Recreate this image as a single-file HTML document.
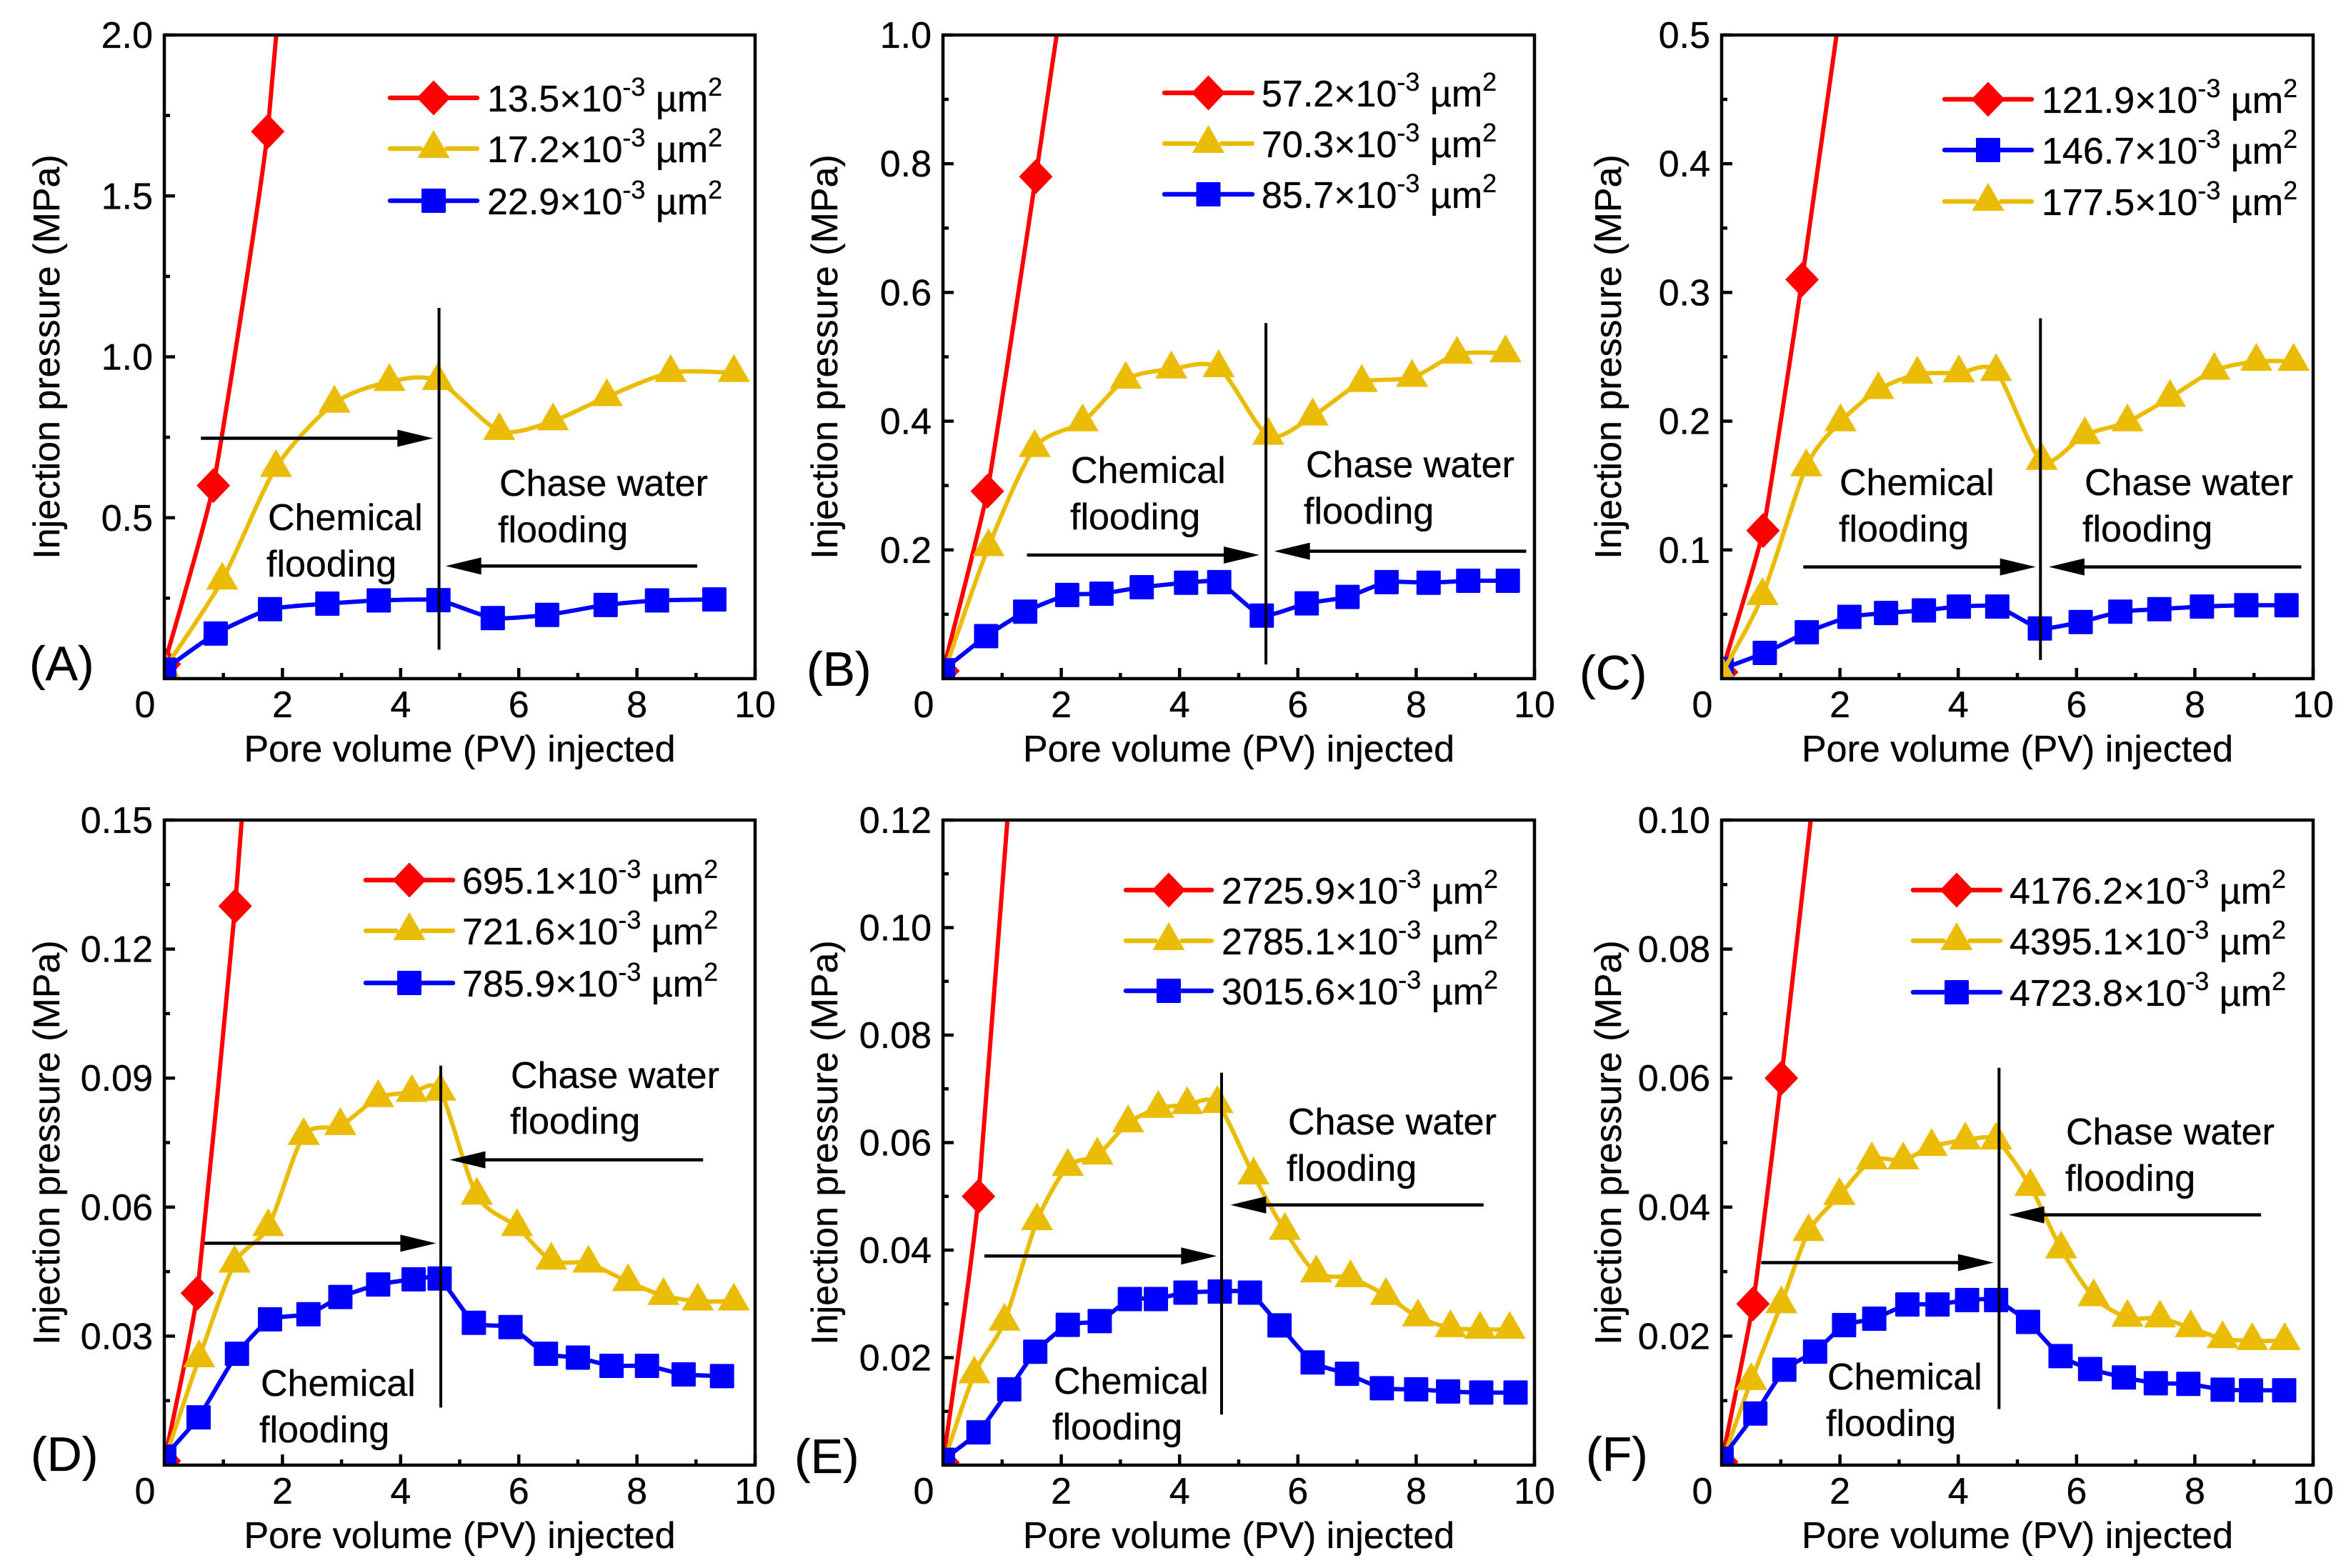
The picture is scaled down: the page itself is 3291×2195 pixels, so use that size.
<!DOCTYPE html>
<html lang="en">
<head>
<meta charset="utf-8">
<title>Injection pressure versus pore volume injected</title>
<style>
html,body{margin:0;padding:0;background:#fff;}
svg{display:block;}
text{font-family:"Liberation Sans",Arial,sans-serif;fill:#000;font-size:52px;stroke:#000;stroke-width:0.35px;}
</style>
</head>
<body>
<svg id="figure" xmlns="http://www.w3.org/2000/svg" width="3291" height="2195" viewBox="0 0 3291 2195"></svg>
<script>
// ---------- shared axis data ----------
const xTickValues = [0, 2, 4, 6, 8, 10];
const xMinorValues = [1, 3, 5, 7, 9];
const xAxisTitle = 'Pore volume (PV) injected';
const yAxisTitle = 'Injection pressure (MPa)';
const chemicalLines = ['Chemical', 'flooding'];
const chaseLines = ['Chase water', 'flooding'];

// ---------- panel A ----------
const aYTicks = ['0.5', '1.0', '1.5', '2.0'];
const aYMinor = [0.25, 0.75, 1.25, 1.75];
const aLegend = ['13.5', '17.2', '22.9'];
const aRedPV = [0, 0.83, 1.75, 2.6];
const aRedP = [0.045, 0.60, 1.70, 3.5];
const aYellowPV = [0, 0.98, 1.89, 2.88, 3.81, 4.63, 5.67, 6.58, 7.49, 8.57, 9.64];
const aYellowP = [0.044, 0.32, 0.67, 0.87, 0.937, 0.94, 0.785, 0.815, 0.89, 0.965, 0.965];
const aBluePV = [0, 0.87, 1.79, 2.76, 3.63, 4.64, 5.56, 6.48, 7.47, 8.34, 9.31];
const aBlueP = [0.028, 0.14, 0.216, 0.233, 0.243, 0.244, 0.188, 0.198, 0.229, 0.243, 0.246];

// ---------- panel B ----------
const bYTicks = ['0.2', '0.4', '0.6', '0.8', '1.0'];
const bYMinor = [0.1, 0.3, 0.5, 0.7, 0.9];
const bLegend = ['57.2', '70.3', '85.7'];
const bRedPV = [0, 0.75, 1.57, 2.4];
const bRedP = [0.012, 0.291, 0.78, 1.3];
const bYellowPV = [0, 0.77, 1.55, 2.36, 3.09, 3.86, 4.66, 5.5, 6.25, 7.08, 7.93, 8.69, 9.51];
const bYellowP = [0.012, 0.212, 0.366, 0.406, 0.472, 0.488, 0.49, 0.385, 0.415, 0.467, 0.475, 0.511, 0.513];
const bBluePV = [0, 0.73, 1.39, 2.10, 2.68, 3.36, 4.11, 4.67, 5.39, 6.15, 6.84, 7.5, 8.21, 8.88, 9.55];
const bBlueP = [0.013, 0.066, 0.104, 0.13, 0.132, 0.142, 0.149, 0.15, 0.098, 0.117, 0.127, 0.15, 0.149, 0.152, 0.152];

// ---------- panel C ----------
const cYTicks = ['0.1', '0.2', '0.3', '0.4', '0.5'];
const cYMinor = [0.05, 0.15, 0.25, 0.35, 0.45];
const cLegend = ['121.9', '146.7', '177.5'];
const cRedPV = [0, 0.70, 1.36, 2.4];
const cRedP = [0.005, 0.115, 0.31, 0.65];
const cBluePV = [0, 0.73, 1.44, 2.16, 2.78, 3.42, 4.01, 4.66, 5.38, 6.07, 6.74, 7.4, 8.12, 8.87, 9.55];
const cBlueP = [0.0075, 0.02, 0.036, 0.048, 0.051, 0.053, 0.056, 0.056, 0.039, 0.044, 0.052, 0.054, 0.056, 0.057, 0.057];
const cYellowPV = [0, 0.69, 1.43, 2.01, 2.65, 3.31, 4.01, 4.64, 5.41, 6.14, 6.86, 7.58, 8.33, 9.04, 9.67];
const cYellowP = [0.0075, 0.068, 0.168, 0.203, 0.228, 0.24, 0.241, 0.242, 0.173, 0.193, 0.203, 0.222, 0.243, 0.25, 0.25];

// ---------- panel D ----------
const dYTicks = ['0.03', '0.06', '0.09', '0.12', '0.15'];
const dYMinor = [0.015, 0.045, 0.075, 0.105, 0.135];
const dLegend = ['695.1', '721.6', '785.9'];
const dRedPV = [0, 0.56, 1.2, 1.8];
const dRedP = [0.001, 0.04, 0.13, 0.24];
const dYellowPV = [0, 0.59, 1.19, 1.76, 2.36, 2.98, 3.62, 4.19, 4.67, 5.29, 5.97, 6.55, 7.18, 7.85, 8.45, 9.03, 9.64];
const dYellowP = [0.002, 0.026, 0.048, 0.0565, 0.0777, 0.08, 0.0865, 0.0877, 0.088, 0.0638, 0.0565, 0.0487, 0.048, 0.0437, 0.0405, 0.0392, 0.0392];
const dBluePV = [0, 0.58, 1.23, 1.79, 2.44, 2.98, 3.62, 4.22, 4.66, 5.24, 5.86, 6.46, 7.0, 7.57, 8.17, 8.79, 9.44];
const dBlueP = [0.002, 0.0111, 0.0259, 0.0339, 0.0351, 0.0391, 0.042, 0.0432, 0.0434, 0.0331, 0.0321, 0.0259, 0.025, 0.0231, 0.0231, 0.0211, 0.0207];

// ---------- panel E ----------
const eYTicks = ['0.02', '0.04', '0.06', '0.08', '0.10', '0.12'];
const eYMinor = [0.01, 0.03, 0.05, 0.07, 0.09, 0.11];
const eLegend = ['2725.9', '2785.1', '3015.6'];
const eRedPV = [0, 0.6, 1.6];
const eRedP = [0.0005, 0.05, 0.195];
const eYellowPV = [0, 0.53, 1.04, 1.59, 2.11, 2.61, 3.13, 3.64, 4.13, 4.64, 5.25, 5.78, 6.31, 6.89, 7.49, 8.03, 8.58, 9.08, 9.58];
const eYellowP = [0.001, 0.0178, 0.0276, 0.0463, 0.0564, 0.0585, 0.0645, 0.0672, 0.0679, 0.0681, 0.0548, 0.0445, 0.0366, 0.0357, 0.0324, 0.0284, 0.0264, 0.0261, 0.0261];
const eBluePV = [0, 0.6, 1.12, 1.56, 2.11, 2.65, 3.16, 3.6, 4.1, 4.68, 5.19, 5.69, 6.25, 6.83, 7.42, 8.0, 8.54, 9.1, 9.68];
const eBlueP = [0.001, 0.0061, 0.0141, 0.0211, 0.0261, 0.0268, 0.0309, 0.0309, 0.0321, 0.0323, 0.0321, 0.026, 0.0191, 0.017, 0.0143, 0.0141, 0.0137, 0.0135, 0.0135];

// ---------- panel F ----------
const fYTicks = ['0.02', '0.04', '0.06', '0.08', '0.10'];
const fYMinor = [0.01, 0.03, 0.05, 0.07, 0.09];
const fLegend = ['4176.2', '4395.1', '4723.8'];
const fRedPV = [0, 0.53, 1.01, 2.0];
const fRedP = [0.0005, 0.025, 0.06, 0.14];
const fYellowPV = [0, 0.50, 1.01, 1.47, 1.99, 2.54, 3.07, 3.55, 4.12, 4.64, 5.22, 5.74, 6.29, 6.86, 7.41, 7.93, 8.47, 8.97, 9.52];
const fYellowP = [0.001, 0.0138, 0.0257, 0.0369, 0.0425, 0.048, 0.048, 0.0501, 0.0511, 0.0511, 0.0439, 0.0342, 0.0268, 0.0236, 0.0235, 0.022, 0.0203, 0.02, 0.02];
const fBluePV = [0, 0.57, 1.06, 1.58, 2.07, 2.58, 3.14, 3.65, 4.15, 4.64, 5.18, 5.73, 6.23, 6.8, 7.34, 7.89, 8.47, 8.95, 9.51];
const fBlueP = [0.001, 0.008, 0.0148, 0.0176, 0.0217, 0.0227, 0.0249, 0.0249, 0.0256, 0.0256, 0.0222, 0.0169, 0.0149, 0.0136, 0.0127, 0.0126, 0.0117, 0.0116, 0.0116];

// ---------- layout and styling (not data) ----------
const RED = '#ff0000', YELLOW = '#ebbc05', BLUE = '#0000ff';
const panels = [
  {id:'a', tag:'(A)', L:230, R:1057, T:49, B:950, yMax:2.0, ticks:aYTicks, minor:aYMinor, legend:aLegend,
   series:[['red',aRedPV,aRedP],['yellow',aYellowPV,aYellowP],['blue',aBluePV,aBlueP]],
   titleX:83, tagX:41, tagY:952, lx1:546, lx2:668, lt:682, rows:[137,208,281],
   div:[4.65,1.152,0.09], arrR:[0.62,4.55,0.747], arrL:[9.02,4.76,0.35],
   chem:[[377,742],[375,807]], chase:[[701,694],[699,759]]},
  {id:'b', tag:'(B)', L:1320, R:2148, T:49, B:950, yMax:1.0, ticks:bYTicks, minor:bYMinor, legend:bLegend,
   series:[['red',bRedPV,bRedP],['yellow',bYellowPV,bYellowP],['blue',bBluePV,bBlueP]],
   titleX:1172, tagX:1129, tagY:960, lx1:1630, lx2:1753, lt:1766, rows:[130,201,272],
   div:[5.46,0.5525,0.022], arrR:[1.42,5.35,0.192], arrL:[9.86,5.60,0.198],
   chem:[[1501,676],[1500,741]], chase:[[1830,668],[1827,733]]},
  {id:'c', tag:'(C)', L:2410, R:3238, T:49, B:950, yMax:0.5, ticks:cYTicks, minor:cYMinor, legend:cLegend,
   series:[['red',cRedPV,cRedP],['blue',cBluePV,cBlueP],['yellow',cYellowPV,cYellowP]],
   titleX:2269, tagX:2211, tagY:965, lx1:2722, lx2:2844, lt:2858, rows:[139,210,282],
   div:[5.39,0.28,0.0144], arrR:[1.38,5.31,0.0868], arrL:[9.8,5.53,0.0868],
   chem:[[2577,693],[2576,758]], chase:[[2920,693],[2917,758]]},
  {id:'d', tag:'(D)', L:230, R:1057, T:1148, B:2051, yMax:0.15, ticks:dYTicks, minor:dYMinor, legend:dLegend,
   series:[['red',dRedPV,dRedP],['yellow',dYellowPV,dYellowP],['blue',dBluePV,dBlueP]],
   titleX:83, tagX:43, tagY:2059, lx1:512, lx2:634, lt:647, rows:[1232,1303,1376],
   div:[4.68,0.0929,0.0134], arrR:[0.68,4.6,0.0516], arrL:[9.12,4.83,0.071],
   chem:[[367,1954],[365,2019]], chase:[[717,1523],[716,1587]]},
  {id:'e', tag:'(E)', L:1320, R:2148, T:1148, B:2051, yMax:0.12, ticks:eYTicks, minor:eYMinor, legend:eLegend,
   series:[['red',eRedPV,eRedP],['yellow',eYellowPV,eYellowP],['blue',eBluePV,eBlueP]],
   titleX:1172, tagX:1112, tagY:2062, lx1:1576, lx2:1696, lt:1710, rows:[1246,1317,1387],
   div:[4.71,0.073,0.0094], arrR:[0.7,4.63,0.0389], arrL:[9.14,4.86,0.0484],
   chem:[[1477,1951],[1475,2015]], chase:[[1805,1588],[1803,1653]]},
  {id:'f', tag:'(F)', L:2410, R:3238, T:1148, B:2051, yMax:0.1, ticks:fYTicks, minor:fYMinor, legend:fLegend,
   series:[['red',fRedPV,fRedP],['yellow',fYellowPV,fYellowP],['blue',fBluePV,fBlueP]],
   titleX:2269, tagX:2220, tagY:2059, lx1:2678, lx2:2800, lt:2813, rows:[1246,1317,1389],
   div:[4.69,0.0616,0.0087], arrR:[0.67,4.6,0.0314], arrL:[9.12,4.85,0.0388],
   chem:[[2560,1945],[2558,2010]], chase:[[2894,1602],[2893,1667]]}
];
const seriesStyle = {
  red:{color:RED, smooth:0.4, anchorShift:0},
  yellow:{color:YELLOW, smooth:0.8, anchorShift:6.5},
  blue:{color:BLUE, smooth:0.5, anchorShift:0}
};

const NS = 'http://www.w3.org/2000/svg';
const root = document.getElementById('figure');
const defs = document.createElementNS(NS, 'defs');
root.appendChild(defs);

function mk(parent, type, attrs, txt) {
  const n = document.createElementNS(NS, type);
  for (const k in attrs) n.setAttribute(k, attrs[k]);
  if (txt !== undefined) n.textContent = txt;
  parent.appendChild(n);
  return n;
}

function smoothPath(pts, k) {
  let d = 'M' + pts[0][0].toFixed(1) + ' ' + pts[0][1].toFixed(1);
  for (let i = 0; i < pts.length - 1; i++) {
    const p0 = pts[Math.max(0, i - 1)], p1 = pts[i], p2 = pts[i + 1], p3 = pts[Math.min(pts.length - 1, i + 2)];
    const c1x = p1[0] + (p2[0] - p0[0]) / 6 * k, c1y = p1[1] + (p2[1] - p0[1]) / 6 * k;
    const c2x = p2[0] - (p3[0] - p1[0]) / 6 * k, c2y = p2[1] - (p3[1] - p1[1]) / 6 * k;
    d += 'C' + c1x.toFixed(1) + ' ' + c1y.toFixed(1) + ' ' + c2x.toFixed(1) + ' ' + c2y.toFixed(1) + ' ' + p2[0].toFixed(1) + ' ' + p2[1].toFixed(1);
  }
  return d;
}

function drawMarker(parent, kind, cx, cy) {
  if (kind === 'red') {
    return mk(parent, 'polygon', {points:(cx-23.5)+','+cy+' '+cx+','+(cy-24.5)+' '+(cx+23.5)+','+cy+' '+cx+','+(cy+24.5), fill:RED});
  }
  if (kind === 'yellow') {
    return mk(parent, 'polygon', {points:(cx-22.5)+','+(cy+13)+' '+cx+','+(cy-26)+' '+(cx+22.5)+','+(cy+13), fill:YELLOW});
  }
  return mk(parent, 'rect', {x:cx-17, y:cy-17, width:34, height:34, rx:1.5, fill:BLUE});
}

panels.forEach(function (p) {
  const sx = function (v) { return p.L + v / 10 * (p.R - p.L); };
  const sy = function (v) { return p.B - v / p.yMax * (p.B - p.T); };
  const g = mk(root, 'g', {});
  
  

  const clip = mk(defs, 'clipPath', {id:'clip-' + p.id});
  mk(clip, 'rect', {x:p.L, y:p.T, width:p.R - p.L, height:p.B - p.T});

  // x ticks and labels
  xTickValues.forEach(function (v) {
    if (v > 0) {
      const t = mk(g, 'line', {x1:sx(v), x2:sx(v), y1:p.B, y2:p.B - 15, stroke:'#000', 'stroke-width':4.5});
      
      
    }
    const lbl = mk(g, 'text', {x:v === 0 ? p.L - 27 : sx(v), y:p.B + 54, 'text-anchor':'middle'}, String(v));
    
    
  });
  xMinorValues.forEach(function (v) {
    const t = mk(g, 'line', {x1:sx(v), x2:sx(v), y1:p.B, y2:p.B - 8, stroke:'#000', 'stroke-width':4.5});
    
    
  });

  // y ticks and labels
  p.ticks.forEach(function (s) {
    const v = parseFloat(s);
    const t = mk(g, 'line', {x1:p.L, x2:p.L + 15, y1:sy(v), y2:sy(v), stroke:'#000', 'stroke-width':4.5});
    
    
    const lbl = mk(g, 'text', {x:p.L - 16, y:sy(v) + 18, 'text-anchor':'end'}, s);
    
    
  });
  p.minor.forEach(function (v) {
    const t = mk(g, 'line', {x1:p.L, x2:p.L + 8, y1:sy(v), y2:sy(v), stroke:'#000', 'stroke-width':4.5});
    
    
  });

  // series
  const plotG = mk(g, 'g', {'clip-path':'url(#clip-' + p.id + ')'});
  
  
  p.series.forEach(function (s) {
    const kind = s[0], xs = s[1], ys = s[2], st = seriesStyle[kind];
    const pts = xs.map(function (x, i) { return [sx(x), sy(ys[i]) + st.anchorShift]; });
    const line = mk(plotG, 'path', {d:smoothPath(pts, st.smooth), fill:'none', stroke:st.color, 'stroke-width':6, 'stroke-linejoin':'round'});
    
    
    pts.forEach(function (pt) {
      const m = drawMarker(plotG, kind, pt[0], pt[1]);
      
      
    });
  });

  // frame
  const frame = mk(g, 'rect', {x:p.L, y:p.T, width:p.R - p.L, height:p.B - p.T, fill:'none', stroke:'#000', 'stroke-width':4.5});
  
  

  // divider
  const dv = mk(g, 'line', {x1:sx(p.div[0]), x2:sx(p.div[0]), y1:sy(p.div[1]), y2:sy(p.div[2]), stroke:'#000', 'stroke-width':4});
  
  

  // arrows
  [p.arrR, p.arrL].forEach(function (a, idx) {
    const x1 = sx(a[0]), x2 = sx(a[1]), y = sy(a[2]), dir = x2 > x1 ? 1 : -1;
    const l = mk(g, 'line', {x1:x1, x2:x2 - dir * 40, y1:y, y2:y, stroke:'#000', 'stroke-width':4.5});
    
    
    const h = mk(g, 'polygon', {points:x2 + ',' + y + ' ' + (x2 - dir * 50) + ',' + (y - 12) + ' ' + (x2 - dir * 50) + ',' + (y + 12), fill:'#000'});
    
    
  });

  // annotations
  chemicalLines.forEach(function (s, i) {
    const t = mk(g, 'text', {x:p.chem[i][0] - 2, y:p.chem[i][1]}, s);
    
    
  });
  chaseLines.forEach(function (s, i) {
    const t = mk(g, 'text', {x:p.chase[i][0] - 2, y:p.chase[i][1]}, s);
    
    
  });

  // legend
  p.series.forEach(function (s, i) {
    const kind = s[0], y = p.rows[i], mid = (p.lx1 + p.lx2) / 2;
    const e = mk(g, 'g', {});
    
    
    const gap = kind === 'yellow' ? 18.5 : 0;
    mk(e, 'line', {x1:p.lx1, x2:mid - gap, y1:y, y2:y, stroke:seriesStyle[kind].color, 'stroke-width':6.5, 'stroke-linecap':'round'});
    mk(e, 'line', {x1:mid + gap, x2:p.lx2, y1:y, y2:y, stroke:seriesStyle[kind].color, 'stroke-width':6.5, 'stroke-linecap':'round'});
    drawMarker(e, kind, mid, y);
    const t = mk(e, 'text', {x:p.lt, y:y + 19});
    t.appendChild(document.createTextNode(p.legend[i] + '×10'));
    mk(t, 'tspan', {dy:-22, 'font-size':36}, '-3');
    mk(t, 'tspan', {dy:22}, ' µm');
    mk(t, 'tspan', {dy:-22, 'font-size':36}, '2');
  });

  // axis titles and panel tag
  const xt = mk(g, 'text', {x:(p.L + p.R) / 2, y:p.B + 116, 'text-anchor':'middle'}, xAxisTitle);
  
  
  const cy = (p.T + p.B) / 2;
  const yt = mk(g, 'text', {x:p.titleX, y:cy, 'text-anchor':'middle', transform:'rotate(-90 ' + p.titleX + ' ' + cy + ')'}, yAxisTitle);
  
  
  const tg = mk(g, 'text', {x:p.tagX, y:p.tagY, style:'font-size:68px'}, p.tag);
  
  
});
</script>
</body>
</html>
